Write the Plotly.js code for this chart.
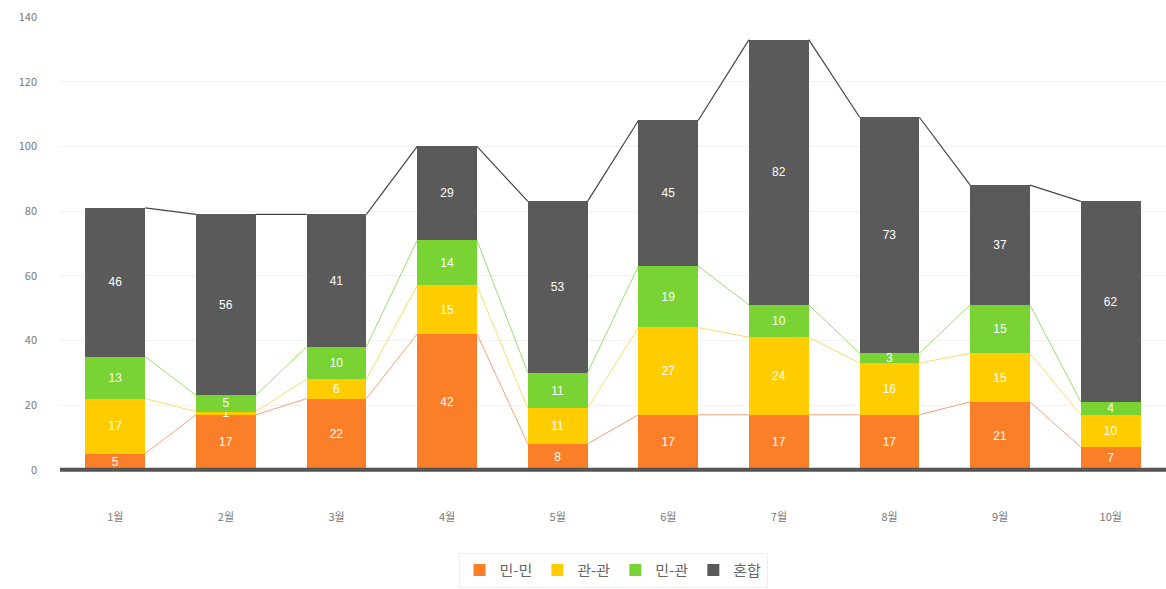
<!DOCTYPE html>
<html><head><meta charset="utf-8">
<script src="https://cdn.plot.ly/plotly-3.0.1.min.js"></script>
<style>html,body{margin:0;padding:0;background:#fff}#chart{width:1166px;height:589px}</style>
</head><body><div id="chart"></div>
<script>
const months = ['1월','2월','3월','4월','5월','6월','7월','8월','9월','10월'];
const minmin = [5,17,22,42,8,17,17,17,21,7];
const gwangwan = [17,1,6,15,11,27,24,16,15,10];
const mingwan = [13,5,10,14,11,19,10,3,15,4];
const honhap = [46,56,41,29,53,45,82,73,37,62];
const seriesNames = ['민-민','관-관','민-관','혼합'];
const barColors = ['#FB7E28','#FFCC00','#78D333','#5A5A5A'];
const lineColors = ['#F4A27A','#F8DC6A','#9BDC6E','#444444'];
const yTicks = [0,20,40,60,80,100,120,140];

const series = [minmin, gwangwan, mingwan, honhap];
const xs = months.map((m,i)=>i);
const barW = 0.54;
const traces = [];
const cum = months.map(()=>0);
const cumLevels = [];
series.forEach((s,k)=>{
  traces.push({type:'bar', name:seriesNames[k], x:xs, y:s, width:barW,
    marker:{color:barColors[k]}, text:s.map(String), textposition:'inside', textangle:0,
    insidetextanchor:'middle', textfont:{color:'#ffffff', size:12, family:'Liberation Sans, Arial'},
    constraintext:'none', cliponaxis:false, hoverinfo:'skip'});
  s.forEach((v,i)=>cum[i]+=v);
  cumLevels.push(cum.slice());
});
cumLevels.forEach((lev,k)=>{
  const lx=[], ly=[];
  for(let i=0;i<lev.length-1;i++){
    lx.push(i+barW/2, i+1-barW/2, null);
    ly.push(lev[i], lev[i+1], null);
  }
  traces.push({type:'scatter', mode:'lines', x:lx, y:ly, showlegend:false, hoverinfo:'skip',
    line:{color:lineColors[k], width:k===3?1.2:1}, connectgaps:false});
});

const layout = {
  width:1166, height:589,
  margin:{l:60, r:0, t:17, b:116},
  barmode:'stack',
  paper_bgcolor:'#fff', plot_bgcolor:'#fff',
  font:{family:'Noto Sans CJK KR, sans-serif', color:'#777'},
  xaxis:{range:[-0.5,9.5], tickvals:xs, ticktext:months, showgrid:false, zeroline:false,
    showline:false, ticks:'', ticklabelstandoff:36, tickfont:{size:11, color:'#777777'}},
  yaxis:{range:[-1,140], tickvals:yTicks, showgrid:true, gridcolor:'#f3f3f3', zeroline:false,
    ticks:'', tickfont:{size:11, color:'#777777'}, ticklabelstandoff:22},
  showlegend:true,
  legend:{orientation:'h', x:0.5, xanchor:'center', y:-0.175, yanchor:'top',
    font:{size:15, color:'#666'}, bordercolor:'#eeeeee', borderwidth:1, traceorder:'normal',
    itemwidth:30},
  shapes:[{type:'line', xref:'paper', x0:0, x1:1, yref:'y', y0:0, y1:0,
    line:{color:'#555555', width:4}, layer:'above'}],
  uniformtext:{minsize:11, mode:'show'}
};
Plotly.newPlot('chart', traces, layout, {displayModeBar:false, staticPlot:true});
</script></body></html>
